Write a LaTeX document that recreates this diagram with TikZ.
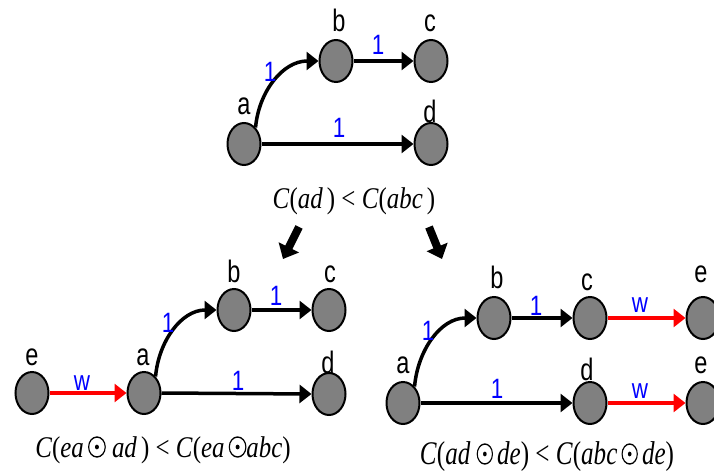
\documentclass[tikz,border=0pt]{standalone}
\usepackage{fontspec}
\setmainfont{Liberation Sans}
\newfontfamily\serf{Liberation Serif}
\usetikzlibrary{arrows.meta,shapes.geometric}
\definecolor{nodegray}{RGB}{128,128,128}
\definecolor{wblue}{RGB}{0,0,255}
\definecolor{ered}{RGB}{255,0,0}
\newcommand{\cdotcirc}{\tikz[baseline=0pt]{\draw[line width=1.4pt,black] (0pt,10pt) circle[radius=10pt]; \fill[black] (0pt,10pt) circle[radius=2.4pt];}}
\tikzset{
 vert/.style={ellipse, draw=black, line width=2pt, fill=nodegray, minimum width=33pt, minimum height=42pt, inner sep=0pt},
 lab/.style={anchor=base, font=\fontsize{31}{31}\selectfont, xscale=0.76, inner sep=0pt},
 wt/.style={anchor=base, font=\fontsize{28}{28}\selectfont, xscale=0.8, inner sep=0pt, text=wblue},
 edge/.style={line width=3.5pt, -{Triangle[length=12pt,width=18pt]}},
 redge/.style={edge, draw=ered},
 frm/.style={anchor=base, font=\serf\fontsize{30}{30}\selectfont, xscale=0.83, inner sep=0pt},
 frmb/.style={anchor=base, font=\serf\fontsize{33}{33}\selectfont, xscale=0.76, inner sep=0pt},
 bigarrow/.style={line width=8pt, -{Triangle[length=13pt,width=22pt]}}
}
\begin{document}
\begin{tikzpicture}[x=1pt,y=-1pt]
\useasboundingbox (0,0) rectangle (714,473);
\clip (0,0) rectangle (714,473);
% ---------- top graph ----------
\node[vert] (a1) at (244,144) {};
\node[vert] (b1) at (336,61) {};
\node[vert] (c1) at (431,61) {};
\node[vert] (d1) at (431,144) {};
\node[lab] (la1) at (244,115) {a};
\node[lab] (lb1) at (339,32) {b};
\node[lab] (lc1) at (430,32) {c};
\node[lab] (ld1) at (430,123) {d};
\draw[edge] (a1.55) to[out=85,in=180] (b1.west);
\draw[edge] (b1.east) -- (c1.west);
\draw[edge] (a1.east) -- (d1.west);
\node[wt] (w1ab) at (270,82) {1};
\node[wt] (w1bc) at (378,55) {1};
\node[wt] (w1ad) at (339,138) {1};
\node[frm] (f1) at (354,208) {\textit{C}(\textit{ad}\,) < \textit{C}(\textit{abc}\,)};
% ---------- big arrows ----------
\coordinate (ba1) at (299,227);
\coordinate (ba2) at (283,259);
\coordinate (bb1) at (429,227);
\coordinate (bb2) at (442,259);
\draw[bigarrow] (ba1) -- (ba2);
\draw[bigarrow] (bb1) -- (bb2);
% ---------- bottom left graph ----------
\node[vert] (e2) at (32,393) {};
\node[vert] (a2) at (144,393) {};
\node[vert] (b2) at (234,310) {};
\node[vert] (c2) at (329,310) {};
\node[vert] (d2) at (329,394) {};
\node[lab] (le2) at (32,365) {e};
\node[lab] (la2) at (143,365) {a};
\node[lab] (lb2) at (234,282) {b};
\node[lab] (lc2) at (330,282) {c};
\node[lab] (ld2) at (328,373) {d};
\draw[redge] (e2.east) -- (a2.west);
\draw[edge] (a2.55) to[out=85,in=180] (b2.west);
\draw[edge] (b2.east) -- (c2.west);
\draw[edge] (a2.east) -- (d2.west);
\node[wt] (w2ea) at (82,390) {w};
\node[wt] (w2ab) at (168,332) {1};
\node[wt] (w2bc) at (276,305) {1};
\node[wt] (w2ad) at (238,390) {1};
\node[frm] (f2) at (163,457) {\textit{C}(\textit{ea}\,\cdotcirc\ \textit{ad}\,) < \textit{C}(\textit{ea}\,\cdotcirc\textit{abc})};
% ---------- bottom right graph ----------
\node[vert] (a3) at (403,403) {};
\node[vert] (b3) at (494,318) {};
\node[vert] (c3) at (590,318) {};
\node[vert] (d3) at (590,403) {};
\node[vert] (e3) at (703,318) {};
\node[vert] (f3) at (703,403) {};
\node[lab] (la3) at (403,373) {a};
\node[lab] (lb3) at (497,288) {b};
\node[lab] (lc3) at (587,290) {c};
\node[lab] (ld3) at (587,380) {d};
\node[lab] (le3) at (701,282) {e};
\node[lab] (lf3) at (701,373) {e};
\draw[edge] (a3.55) to[out=85,in=180] (b3.west);
\draw[edge] (b3.east) -- (c3.west);
\draw[edge] (a3.east) -- (d3.west);
\draw[redge] (c3.east) -- (e3.west);
\draw[redge] (d3.east) -- (f3.west);
\node[wt] (w3ab) at (428,340) {1};
\node[wt] (w3bc) at (536,315) {1};
\node[wt] (w3ad) at (497,398) {1};
\node[wt] (w3ce) at (640,312) {w};
\node[wt] (w3df) at (640,398) {w};
\node[frmb] (f3t) at (547,464) {\textit{C}(\textit{ad}\ \cdotcirc\,\textit{de}) < \textit{C}(\textit{abc}\,\cdotcirc\,\textit{de})};
\end{tikzpicture}
\end{document}
